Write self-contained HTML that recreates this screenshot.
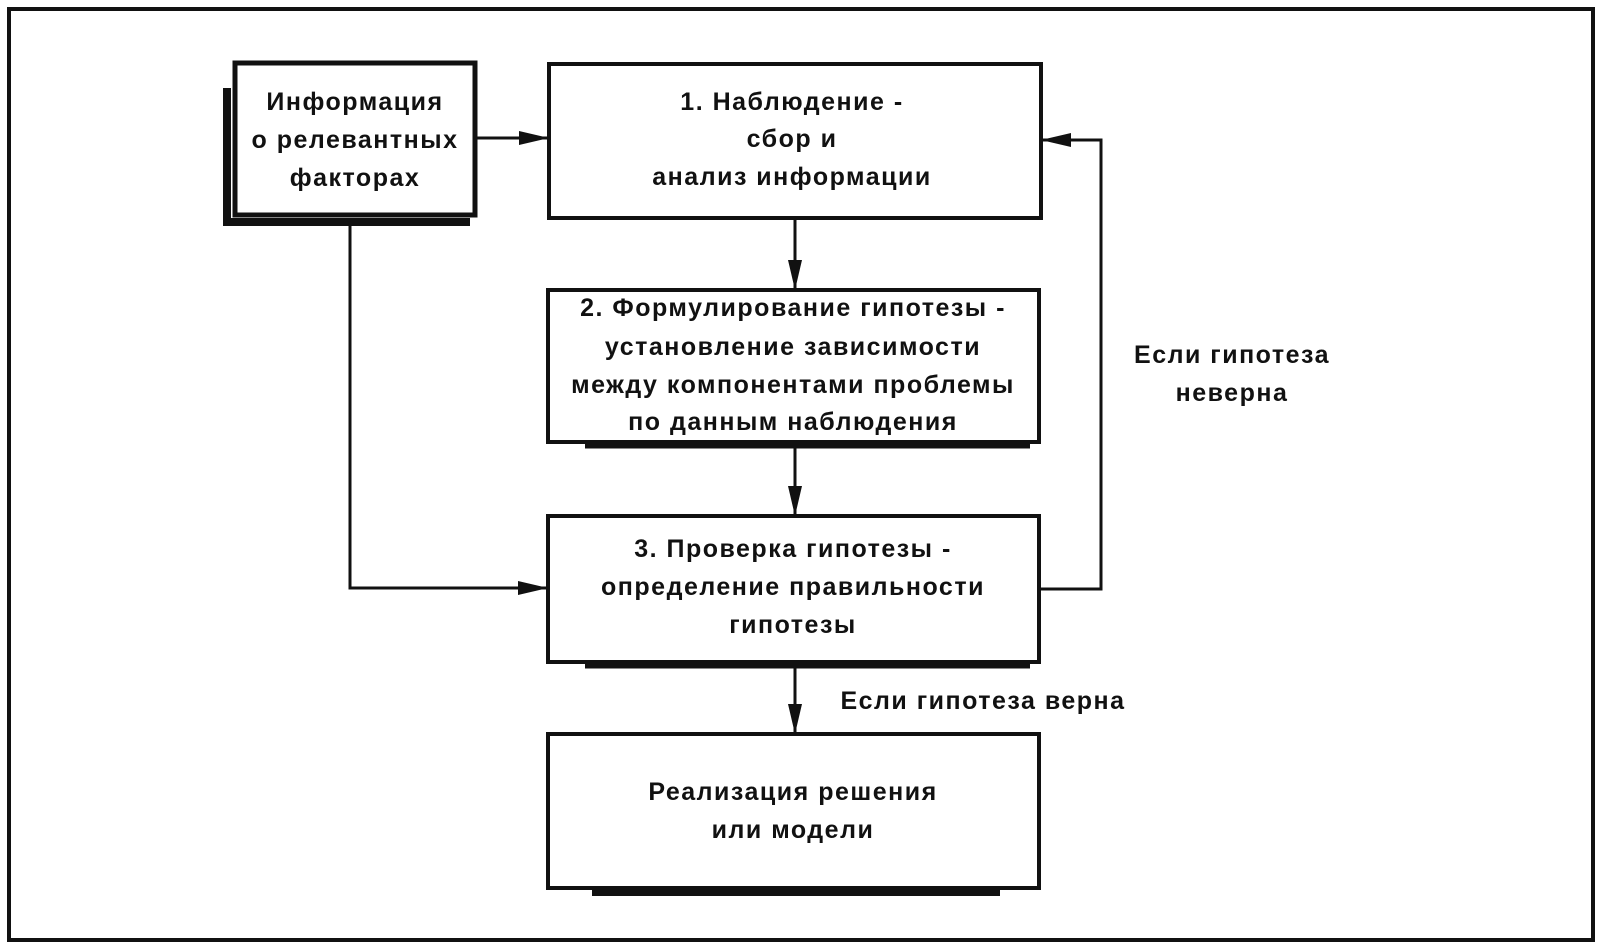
<!DOCTYPE html>
<html><head><meta charset="utf-8"><style>
html,body{margin:0;padding:0;background:#fff;}
svg{display:block;}
text{font-family:"Liberation Sans","DejaVu Sans",sans-serif;font-weight:bold;font-size:25px;fill:#111;letter-spacing:1.5px;text-anchor:middle;}
</style></head><body>
<svg width="1601" height="946" viewBox="0 0 1601 946" xmlns="http://www.w3.org/2000/svg">
<defs><marker id="a" markerWidth="12" markerHeight="10" refX="11" refY="5" orient="auto" markerUnits="userSpaceOnUse"><path d="M0,0 L12,5 L0,10 z" fill="#111" transform="scale(1)"/></marker>
<marker id="b" viewBox="0 0 30 14" markerWidth="30" markerHeight="14" refX="30" refY="7" orient="auto" markerUnits="userSpaceOnUse"><path d="M0,0 L30,7 L0,14 z" fill="#111"/></marker></defs>
<rect x="9" y="9" width="1584" height="931" fill="none" stroke="#111" stroke-width="4"/>
<g fill="none" stroke="#111" stroke-width="4">
<!-- info box shadow -->
<path d="M227,88 V222 H470" stroke-width="8"/>
<rect x="235" y="63" width="240" height="152" stroke-width="5"/>
<rect x="549" y="64" width="492" height="154"/>
<rect x="548" y="290" width="491" height="152"/>
<path d="M585,446 H1030" stroke-width="5"/>
<rect x="548" y="516" width="491" height="146"/>
<path d="M585,666 H1030" stroke-width="5"/>
<rect x="548" y="734" width="491" height="154"/>
<path d="M592,893 H1000" stroke-width="6"/>
<!-- connectors -->
<path d="M477,138 H549" stroke-width="3" marker-end="url(#b)"/>
<path d="M795,218 V290" stroke-width="3" marker-end="url(#b)"/>
<path d="M795,442 V516" stroke-width="3" marker-end="url(#b)"/>
<path d="M795,662 V734" stroke-width="3" marker-end="url(#b)"/>
<path d="M350,225 V588 H548" stroke-width="3" marker-end="url(#b)"/>
<path d="M1039,589 H1101 V140 H1041" stroke-width="3" marker-end="url(#b)"/>
</g>
<text x="355" y="110">Информация</text>
<text x="355" y="148">о релевантных</text>
<text x="355" y="186">факторах</text>
<text x="792" y="110">1. Наблюдение -</text>
<text x="792" y="147">сбор и</text>
<text x="792" y="185">анализ информации</text>
<text x="793" y="316">2. Формулирование гипотезы -</text>
<text x="793" y="355">установление зависимости</text>
<text x="793" y="393">между компонентами проблемы</text>
<text x="793" y="430">по данным наблюдения</text>
<text x="793" y="557">3. Проверка гипотезы -</text>
<text x="793" y="595">определение правильности</text>
<text x="793" y="633">гипотезы</text>
<text x="793" y="800">Реализация решения</text>
<text x="793" y="838">или модели</text>
<text x="1232" y="363">Если гипотеза</text>
<text x="1232" y="401">неверна</text>
<text x="983" y="709">Если гипотеза верна</text>
</svg>
</body></html>
